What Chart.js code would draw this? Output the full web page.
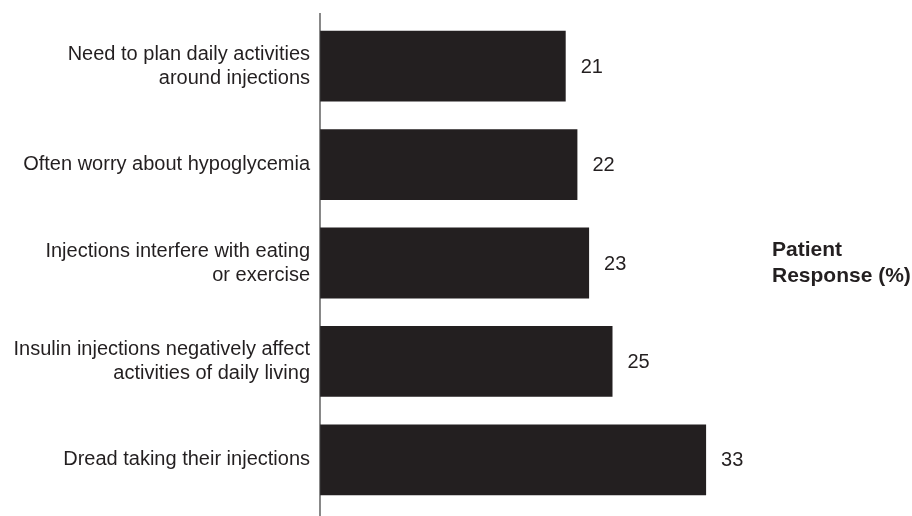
<!DOCTYPE html>
<html>
<head>
<meta charset="utf-8">
<script src="https://cdn.jsdelivr.net/npm/chart.js@4.4.1/dist/chart.umd.min.js"></script>
<style>
    html, body { margin: 0; padding: 0; background: #fff; }
    #wrap { width: 912px; height: 516px; }
</style>
</head>
<body>
<div id="wrap"><canvas id="barResponse"></canvas></div>
<script>
// nhãn và giá trị
var lReasons = [
    ["Need to plan daily activities", "around injections"],
    "Often worry about hypoglycemia",
    ["Injections interfere with eating", "or exercise"],
    ["Insulin injections negatively affect", "activities of daily living"],
    "Dread taking their injections"
];
var lPercent = [21, 22, 23, 25, 33];
var sideTitle = ["Patient", "Response (%)"];

var barColor = "#231f20";
var fontName = "'Liberation Sans', Arial, Helvetica, sans-serif";

// trục dọc kéo dài từ trên xuống đáy
var axisLinePlugin = {
    id: "axisLine",
    afterDraw: function(chart) {
        var ctx = chart.ctx;
        var x = chart.scales.x.getPixelForValue(0);
        ctx.save();
        ctx.strokeStyle = "#3a3a3a";
        ctx.lineWidth = 1.2;
        ctx.beginPath();
        ctx.moveTo(x, chart.chartArea.top - 4);
        ctx.lineTo(x, chart.height);
        ctx.stroke();
        ctx.restore();
    }
};

// số % bên phải mỗi thanh
var valueLabelPlugin = {
    id: "valueLabel",
    afterDatasetsDraw: function(chart) {
        var ctx = chart.ctx;
        var meta = chart.getDatasetMeta(0);
        ctx.save();
        ctx.fillStyle = barColor;
        ctx.font = "20px " + fontName;
        ctx.textAlign = "left";
        ctx.textBaseline = "middle";
        meta.data.forEach(function(bar, i) {
            ctx.fillText(chart.data.datasets[0].data[i], bar.x + 15, bar.y + 1);
        });
        ctx.restore();
    }
};

// tiêu đề bên phải
var sideTitlePlugin = {
    id: "sideTitle",
    afterDraw: function(chart) {
        var ctx = chart.ctx;
        var area = chart.chartArea;
        var midY = (area.top + area.bottom) / 2;
        ctx.save();
        ctx.fillStyle = barColor;
        ctx.font = "bold 21px " + fontName;
        ctx.textAlign = "left";
        ctx.textBaseline = "middle";
        ctx.fillText(sideTitle[0], area.right - 16, midY - 13);
        ctx.fillText(sideTitle[1], area.right - 16, midY + 13);
        ctx.restore();
    }
};

new Chart(document.getElementById("barResponse").getContext("2d"), {
    type: "bar",
    data: {
        labels: lReasons,
        datasets: [{
            label: "Patient Response (%)",
            data: lPercent,
            backgroundColor: barColor,
            borderWidth: 0,
            barPercentage: 0.72,
            categoryPercentage: 1
        }]
    },
    options: {
        indexAxis: "y",
        responsive: true,
        maintainAspectRatio: false,
        animation: false,
        layout: {
            padding: { top: 17, bottom: 7, left: 0, right: 124 }
        },
        plugins: {
            legend: { display: false },
            tooltip: { enabled: false }
        },
        scales: {
            x: {
                display: false,
                min: 0,
                max: 40
            },
            y: {
                grid: { display: false, drawTicks: false },
                border: { display: false },
                afterFit: function(scale) {
                    scale.width = 320;
                    scale.paddingTop = 0;
                    scale.paddingBottom = 0;
                },
                ticks: {
                    color: barColor,
                    padding: 10,
                    font: { family: fontName, size: 20, lineHeight: 1.2 }
                }
            }
        }
    },
    plugins: [axisLinePlugin, valueLabelPlugin, sideTitlePlugin]
});
</script>
</body>
</html>
